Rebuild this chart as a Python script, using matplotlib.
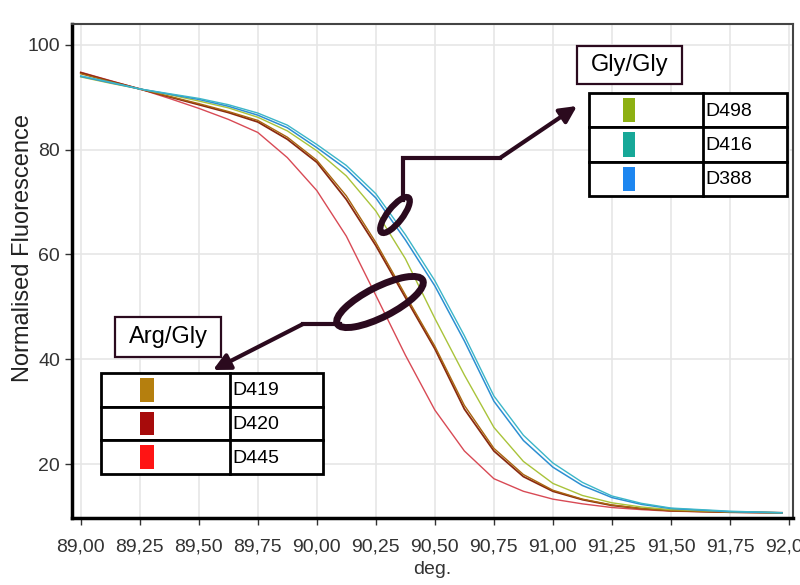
import numpy as np
import matplotlib
matplotlib.use('Agg')
import matplotlib.pyplot as plt
from matplotlib.patches import Rectangle, Ellipse, FancyArrowPatch
from matplotlib.lines import Line2D

plt.rcParams['font.family'] = ['Liberation Sans', 'DejaVu Sans']

# melting curves
temp = [89.0, 89.125, 89.25, 89.375, 89.5, 89.625, 89.75, 89.875, 90.0, 90.125,
        90.25, 90.375, 90.5, 90.625, 90.75, 90.875, 91.0, 91.125, 91.25, 91.375,
        91.5, 91.75, 91.97]
d445 = [94.8, 93.2, 91.6, 89.8, 87.9, 85.8, 83.3, 78.5, 72.2, 63.5, 52.2, 40.8,
        30.3, 22.5, 17.2, 14.8, 13.3, 12.4, 11.7, 11.3, 11.0, 10.8, 10.7]
d420 = [94.7, 93.1, 91.6, 90.1, 88.6, 87.1, 85.3, 82.0, 77.6, 70.5, 61.7, 51.8,
        42.0, 30.5, 22.5, 17.6, 14.8, 13.2, 12.1, 11.5, 11.1, 10.8, 10.7]
d419 = [94.5, 93.0, 91.6, 90.2, 88.8, 87.3, 85.6, 82.4, 78.0, 71.2, 62.3, 52.3,
        42.5, 31.2, 23.0, 18.0, 15.0, 13.3, 12.2, 11.5, 11.1, 10.8, 10.7]
d498 = [93.9, 92.7, 91.6, 90.5, 89.3, 88.0, 86.2, 83.6, 79.8, 75.0, 68.3, 59.2,
        47.8, 37.0, 27.0, 20.5, 16.3, 14.0, 12.6, 11.8, 11.3, 10.9, 10.7]
d388 = [94.0, 92.8, 91.6, 90.6, 89.6, 88.3, 86.6, 84.2, 80.4, 76.3, 70.8, 62.8,
        54.0, 43.5, 32.0, 24.5, 19.4, 15.9, 13.6, 12.3, 11.5, 10.9, 10.7]
d416 = [94.1, 92.9, 91.6, 90.7, 89.8, 88.6, 87.0, 84.7, 81.0, 77.0, 71.6, 63.8,
        55.0, 44.5, 33.0, 25.5, 20.2, 16.5, 13.9, 12.5, 11.6, 11.0, 10.7]

xticks = [89.0, 89.25, 89.5, 89.75, 90.0, 90.25, 90.5, 90.75, 91.0, 91.25, 91.5, 91.75, 92.0]
xticklabels = ['89,00', '89,25', '89,50', '89,75', '90,00', '90,25', '90,50',
               '90,75', '91,00', '91,25', '91,50', '91,75', '92,00']
yticks = [20, 40, 60, 80, 100]

gly_names = ['D498', 'D416', 'D388']
gly_colors = ['#8db012', '#17a898', '#1d86f0']
arg_names = ['D419', 'D420', 'D445']
arg_colors = ['#b57f0e', '#a70b0b', '#ff1414']

W, H = 800, 585
fig = plt.figure(figsize=(8, 5.85), dpi=100)
ax = fig.add_axes([72 / W, 1 - 518 / H, (793 - 72) / W, (518 - 24) / H])

ax.plot(temp, d445, color='#d84a55', lw=1.0)
ax.plot(temp, d420, color='#8a2a10', lw=1.3)
ax.plot(temp, d419, color='#a8650f', lw=1.0)
ax.plot(temp, d498, color='#a9c33a', lw=1.0)
ax.plot(temp, d388, color='#2d8fd2', lw=1.1)
ax.plot(temp, d416, color='#3cb6c8', lw=1.0)

ax.set_xlim(88.963, 92.017)
ax.set_ylim(9.7, 104)
ax.set_xticks(xticks)
ax.set_xticklabels(xticklabels)
ax.set_yticks(yticks)
ax.tick_params(labelsize=14, colors='#333333', length=5, width=1)
ax.tick_params(axis='x', pad=10)
ax.grid(True, color='#e6e6e6', lw=1.2)
ax.set_axisbelow(True)
for s in ['left', 'bottom']:
    ax.spines[s].set_linewidth(2.5)
    ax.spines[s].set_color('black')
for s in ['top', 'right']:
    ax.spines[s].set_linewidth(1.5)
    ax.spines[s].set_color('#444444')
ax.set_ylabel('Normalised Fluorescence', fontsize=17, color='#222222')
ax.yaxis.set_label_coords(-0.053, 0.547)
ax.set_xlabel('deg.', fontsize=14, color='#333333', labelpad=4)

dark = '#2b0a1e'


def P(x, y):
    return (x / W, 1 - y / H)


def rect(x0, y0, x1, y1, fc='white', ec='black', lw=2):
    fig.add_artist(Rectangle(P(x0, y1), (x1 - x0) / W, (y1 - y0) / H,
                             transform=fig.transFigure, fc=fc, ec=ec, lw=lw))


def table(x0, y0, x1, xdiv, rowh, sw, names, colors):
    for i, (n, c) in enumerate(zip(names, colors)):
        ya = y0 + i * rowh
        rect(x0, ya, x1, ya + rowh)
        fig.add_artist(Line2D([xdiv / W, xdiv / W], [1 - ya / H, 1 - (ya + rowh) / H],
                              transform=fig.transFigure, color='black', lw=2))
        rect(sw[0], ya + 5, sw[1], ya + rowh - 5, fc=c, ec='none', lw=0)
        fig.text((xdiv + 2) / W, 1 - (ya + rowh / 2 + 1) / H, n, fontsize=14,
                 va='center', ha='left', color='black')


def label_box(x0, y0, x1, y1, txt):
    rect(x0, y0, x1, y1, ec=dark, lw=1.6)
    fig.text((x0 + x1) / 2 / W, 1 - (y0 + y1) / 2 / H, txt, fontsize=17,
             ha='center', va='center', color='black')


def ring(x, y, w, h, ang, lw):
    # pixel coords -> inches so the rotation stays round
    fig.add_artist(Ellipse((x / 100, (H - y) / 100), w / 100, h / 100, angle=ang,
                           transform=fig.dpi_scale_trans, fill=False, ec=dark, lw=lw))


# Gly/Gly
label_box(577, 46, 682, 84, 'Gly/Gly')
table(589, 93, 787, 703, 34.3, (623, 635), gly_names, gly_colors)
# Arg/Gly
label_box(115, 317, 221, 357, 'Arg/Gly')
table(101, 373, 323, 230, 33.7, (140, 154), arg_names, arg_colors)

ring(395, 215, 44, 15, 52, 4.5)
ring(380, 302, 96, 30, 27, 5)

# connectors
fig.add_artist(Line2D([403 / W, 403 / W, 500 / W], [1 - 200 / H, 1 - 158 / H, 1 - 158 / H],
                      transform=fig.transFigure, color=dark, lw=3, solid_joinstyle='miter'))
fig.add_artist(FancyArrowPatch(P(500, 158), P(577, 106), transform=fig.transFigure,
                               arrowstyle='-|>,head_length=10,head_width=5',
                               color=dark, lw=3, shrinkA=0, shrinkB=0))
fig.add_artist(Line2D([340 / W, 303 / W], [1 - 324 / H, 1 - 324 / H],
                      transform=fig.transFigure, color=dark, lw=3))
fig.add_artist(FancyArrowPatch(P(303, 324), P(213, 370), transform=fig.transFigure,
                               arrowstyle='-|>,head_length=10,head_width=5',
                               color=dark, lw=3, shrinkA=0, shrinkB=0))

fig.savefig('out.png', dpi=100)
